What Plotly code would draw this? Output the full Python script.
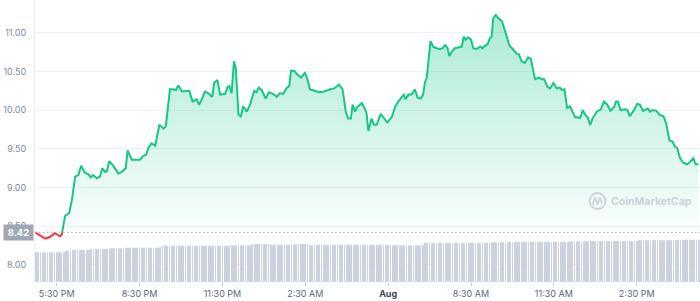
import plotly.graph_objects as go
import pandas as pd
import numpy as np

# ---------------- data ----------------
BASE_PRICE = 8.42

price_times = [
    "16:43", "17:05", "17:15", "17:26", "17:37", "17:41", "17:48", "17:57", "18:03", "18:10",
    "18:17", "18:23", "18:31", "18:39", "18:44", "18:49", "18:57", "19:04", "19:09", "19:15",
    "19:19", "19:24", "19:33", "19:44", "19:51", "20:00", "20:04", "20:13", "20:31", "20:38",
    "20:44", "20:49", "20:56", "21:04", "21:13", "21:22", "21:27", "21:36", "21:42", "21:49",
    "21:54", "22:02", "22:18", "22:25", "22:34", "22:39", "22:43", "22:52", "22:59", "23:08",
    "23:12", "23:19", "23:25", "23:36", "23:41", "23:45", "23:50", "23:55", "23:59", "00:05",
    "00:10", "00:15", "00:23", "00:30", "00:39", "00:44", "00:49", "00:55", "01:04", "01:11",
    "01:20", "01:28", "01:35", "01:42", "01:50", "01:55", "01:59", "02:06", "02:11", "02:21",
    "02:29", "02:34", "02:40", "02:50", "03:00", "03:11", "03:24", "03:33", "03:43", "03:51",
    "03:58", "04:03", "04:09", "04:13", "04:18", "04:23", "04:33", "04:40", "04:43", "04:47",
    "04:54", "04:59", "05:05", "05:14", "05:22", "05:28", "05:38", "05:45", "05:52", "05:59",
    "06:04", "06:08", "06:14", "06:21", "06:28", "06:34", "06:41", "06:46", "06:50", "06:54",
    "07:02", "07:08", "07:15", "07:23", "07:28", "07:34", "07:39", "07:43", "07:49", "07:55",
    "08:06", "08:10", "08:14", "08:18", "08:24", "08:30", "08:35", "08:42", "08:50", "08:55",
    "09:00", "09:06", "09:11", "09:15", "09:18", "09:24", "09:29", "09:37", "09:42", "09:48",
    "09:53", "10:02", "10:09", "10:14", "10:20", "10:27", "10:34", "10:40", "10:49", "10:58",
    "11:04", "11:09", "11:16", "11:22", "11:29", "11:36", "11:43", "11:47", "11:53", "11:59",
    "12:05", "12:16", "12:27", "12:33", "12:38", "12:43", "12:49", "12:54", "13:03", "13:12",
    "13:19", "13:26", "13:33", "13:41", "13:45", "13:49", "13:55", "14:05", "14:10", "14:15",
    "14:23", "14:31", "14:37", "14:44", "14:50", "14:54", "14:59", "15:05", "15:13", "15:19",
    "15:28", "15:34", "15:41", "15:48", "15:53", "15:58", "16:04", "16:11", "16:19", "16:26",
    "16:33", "16:38", "16:44",
]

price_values = [
    8.42, 8.34, 8.36, 8.41, 8.37, 8.39, 8.63, 8.67, 8.84, 9.14,
    9.16, 9.28, 9.19, 9.17, 9.13, 9.16, 9.12, 9.14, 9.25, 9.20,
    9.21, 9.34, 9.28, 9.18, 9.20, 9.25, 9.48, 9.36, 9.36, 9.41,
    9.42, 9.51, 9.57, 9.54, 9.81, 9.76, 9.79, 10.27, 10.27, 10.26,
    10.32, 10.24, 10.25, 10.11, 10.14, 10.07, 10.11, 10.24, 10.22, 10.17,
    10.35, 10.39, 10.20, 10.21, 10.30, 10.31, 10.22, 10.63, 10.54, 9.94,
    9.92, 10.05, 9.98, 10.07, 10.25, 10.23, 10.29, 10.26, 10.15, 10.23,
    10.21, 10.17, 10.22, 10.21, 10.29, 10.31, 10.51, 10.51, 10.47, 10.42,
    10.48, 10.41, 10.27, 10.25, 10.23, 10.24, 10.27, 10.28, 10.33, 10.27,
    9.98, 9.89, 9.89, 10.07, 9.98, 10.04, 10.09, 10.01, 9.96, 9.73,
    9.89, 9.81, 9.81, 9.95, 9.89, 9.84, 9.91, 10.04, 10.11, 10.17,
    10.20, 10.14, 10.20, 10.20, 10.27, 10.16, 10.15, 10.20, 10.36, 10.42,
    10.89, 10.82, 10.80, 10.79, 10.80, 10.84, 10.80, 10.70, 10.76, 10.80,
    10.81, 10.82, 10.95, 10.91, 10.94, 10.91, 10.80, 10.79, 10.82, 10.80,
    10.83, 10.85, 10.93, 10.95, 11.18, 11.23, 11.19, 11.15, 11.06, 10.95,
    10.84, 10.78, 10.73, 10.72, 10.63, 10.61, 10.68, 10.66, 10.40, 10.42,
    10.40, 10.40, 10.30, 10.28, 10.35, 10.28, 10.29, 10.26, 10.27, 10.02,
    10.05, 9.91, 9.90, 10.00, 9.94, 9.91, 9.81, 9.89, 9.98, 10.01,
    10.11, 10.07, 9.99, 10.04, 10.11, 10.11, 10.00, 10.01, 10.00, 9.92,
    9.99, 10.08, 10.07, 9.99, 10.01, 10.02, 9.98, 10.00, 9.99, 9.94,
    9.92, 9.83, 9.61, 9.59, 9.53, 9.51, 9.38, 9.32, 9.30, 9.33,
    9.38, 9.30, 9.30,
]

# 24h volume (millions USD), one bar per 5 minutes from 16:45, run-length encoded
volume_levels = [59.4, 62.6, 64.6, 66.0, 67.4, 68.6, 70.6, 73.4, 72.6, 73.4, 76.0,
                 74.6, 76.0, 74.6, 73.4, 78.6, 79.4, 80.6, 81.4, 82.0, 83.4, 84.6]
volume_counts = [13, 3, 8, 9, 6, 15, 1, 2, 28, 9, 8,
                 11, 6, 35, 15, 28, 9, 26, 9, 21, 17, 10]

x_tick_times = ["2023-07-31 17:30", "2023-07-31 20:30", "2023-07-31 23:30", "2023-08-01 02:30",
                "2023-08-01 05:30", "2023-08-01 08:30", "2023-08-01 11:30", "2023-08-01 14:30"]
x_tick_labels = ["5:30 PM", "8:30 PM", "11:30 PM", "2:30 AM",
                 "<b><span style='color:#3d4556'>Aug</span></b>", "8:30 AM", "11:30 AM", "2:30 PM"]
y_tick_values = [8.0, 8.5, 9.0, 9.5, 10.0, 10.5, 11.0]
y_tick_labels = ["8.00", "8.50", "9.00", "9.50", "10.00", "10.50", "11.00"]

# ---------------- build ----------------
day = pd.Timestamp("2023-07-31")
stamps = []
prev = None
for s in price_times:
    if prev is not None and s < prev:
        day = day + pd.Timedelta(days=1)
    stamps.append(pd.Timestamp(f"{day.date()} {s}"))
    prev = s
t_ns = np.array([s.value for s in stamps], dtype=np.int64)
vals = np.array(price_values)

# split into above / below baseline segments with crossing points
segments = []
cur_x, cur_y = [t_ns[0]], [vals[0]]
cur_sign = -1 if vals[1] < BASE_PRICE else 1
for i in range(1, len(vals)):
    sgn = 1 if vals[i] >= BASE_PRICE else -1
    if sgn != cur_sign:
        x0, x1, y0, y1 = t_ns[i - 1], t_ns[i], vals[i - 1], vals[i]
        frac = (BASE_PRICE - y0) / (y1 - y0) if y1 != y0 else 0
        xc = int(x0 + frac * (x1 - x0))
        cur_x.append(xc); cur_y.append(BASE_PRICE)
        segments.append((cur_sign, cur_x, cur_y))
        cur_x, cur_y = [xc], [BASE_PRICE]
        cur_sign = sgn
    cur_x.append(t_ns[i]); cur_y.append(vals[i])
segments.append((cur_sign, cur_x, cur_y))

GREEN = "#16c784"
RED = "#ea3943"
WM = "#cdd2dc"

fig = go.Figure()

# volume bars
bar_times = []
bar_vals = []
start_bar = pd.Timestamp("2023-07-31 16:45")
k = 0
for lvl, cnt in zip(volume_levels, volume_counts):
    for _ in range(cnt):
        bar_times.append(start_bar + pd.Timedelta(minutes=5 * k))
        bar_vals.append(lvl)
        k += 1

fig.add_trace(go.Bar(
    x=bar_times, y=bar_vals, yaxis="y2",
    marker=dict(color="#ccd2df", line=dict(width=0)),
    width=100000, hoverinfo="skip", showlegend=False,
))

for sgn, xs, ys in segments:
    xs_dt = pd.to_datetime(np.array(xs, dtype=np.int64))
    fig.add_trace(go.Scatter(
        x=[xs_dt[0], xs_dt[-1]], y=[BASE_PRICE, BASE_PRICE], mode="lines",
        line=dict(width=0), hoverinfo="skip", showlegend=False,
    ))
    if sgn > 0:
        grad = dict(type="vertical",
                    colorscale=[[0, "rgba(22,199,132,0.02)"], [1, "rgba(22,199,132,0.36)"]])
        col = GREEN
    else:
        grad = dict(type="vertical",
                    colorscale=[[0, "rgba(234,57,67,0.15)"], [1, "rgba(234,57,67,0.02)"]])
        col = RED
    fig.add_trace(go.Scatter(
        x=xs_dt, y=ys, mode="lines", fill="tonexty", fillgradient=grad,
        line=dict(color=col, width=2, shape="linear"),
        hoverinfo="skip", showlegend=False,
    ))

# baseline dotted line
fig.add_shape(type="line", xref="paper", x0=0, x1=1, yref="y", y0=BASE_PRICE, y1=BASE_PRICE,
              line=dict(color="#a6b0c3", width=1, dash="1.5px,2.5px"), layer="above")

# baseline label
fig.add_annotation(xref="paper", x=0, xanchor="right", xshift=-1, yref="y", y=BASE_PRICE,
                   text="<b>8.42</b>", showarrow=False,
                   font=dict(family="Inter", size=9.5, color="#ffffff"),
                   bgcolor="#a1a7b3", borderpad=2, width=25, align="center")

# watermark
fig.add_annotation(xref="paper", yref="paper", x=(694 - 35) / 665, xanchor="right",
                   y=(282 - 201) / 282, yanchor="middle",
                   text="<b>CoinMarketCap</b>", showarrow=False,
                   font=dict(family="Inter", size=10.5, color=WM))
fig.add_shape(type="circle", xref="paper", yref="paper",
              x0=(589.5 - 35) / 665, x1=(605.5 - 35) / 665,
              y0=(282 - 209) / 282, y1=(282 - 193) / 282,
              line=dict(color=WM, width=1.8))
wx = [592.5, 595, 597.5, 600, 602]
wy = [205, 198, 204, 198, 203.5]
path = "M " + " L ".join(f"{(a - 35) / 665:.5f},{(282 - b) / 282:.5f}" for a, b in zip(wx, wy))
fig.add_shape(type="path", xref="paper", yref="paper", path=path,
              line=dict(color=WM, width=1.6))

fig.update_layout(
    width=700, height=301,
    margin=dict(l=35, r=0, t=0, b=19),
    paper_bgcolor="#ffffff", plot_bgcolor="#ffffff",
    font=dict(family="Inter", size=9, color="#808a9d"),
    xaxis=dict(
        type="date",
        range=["2023-07-31 16:42:48", "2023-08-01 16:47:30"],
        tickvals=x_tick_times, ticktext=x_tick_labels,
        ticks="outside", ticklen=3, tickcolor="#c3c9d4", tickwidth=1,
        showgrid=False, zeroline=False, showline=False,
        tickfont=dict(family="Inter", size=9, color="#58667e"),
    ),
    yaxis=dict(
        range=[7.779, 11.4225],
        tickvals=y_tick_values, ticktext=y_tick_labels,
        showgrid=True, gridcolor="#eff2f5", gridwidth=1,
        zeroline=False, showline=True, linecolor="#eff2f5", linewidth=1,
        ticks="", ticklabelstandoff=6,
        tickfont=dict(family="Inter", size=9, color="#808a9d"),
    ),
    yaxis2=dict(
        overlaying="y", range=[0, 564], visible=False, showgrid=False,
    ),
)

fig.write_html("out.html")
